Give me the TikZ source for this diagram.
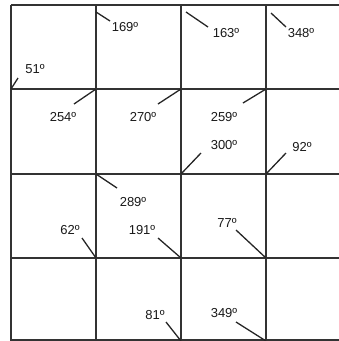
\documentclass[tikz,border=0pt]{standalone}
\usepackage{fontspec}
\setmainfont{Liberation Sans}

\begin{document}
\begin{tikzpicture}[x=1pt,y=-1pt,line width=1.6pt,
  grid/.style={black!80},
  tick/.style={black!85,line width=1.3pt},
  lbl/.style={inner sep=0pt,text=black!90,font=\fontsize{13}{15}\selectfont}]
  \useasboundingbox (0,0) rectangle (339,341);
  % grid
  \begin{scope}
    \clip (0,0) rectangle (339,341);
    \foreach \x in {11,96,181,266}
       \draw[grid] (\x,5)--(\x,345);
    \foreach \y in {5,89,174,258,340}
       \draw[grid] (11,\y)--(345,\y);
  \end{scope}
  % labels and ticks
  \foreach \t/\lx/\ly/\ax/\ay/\bx/\by in {51/35/69/11/89/18/78,169/125/27/96/12/110/21,
      163/226/33/186/12/208/27,348/301/33/271/13/286/27,254/63/117/96/89/74/104,
      270/143/117/181/89/158/104,259/224/117/266/89/243/103,300/224/145/201/153/181/174,
      92/302/147/286/153/266/174,289/133/202/96/174/117/188,62/70/230/82/238/96/258,
      191/142/230/158/238/181/258,77/227/223/236/230/266/258,81/155/315/166/322/181/341,
      349/224/313/236/322/266/341}
  {
    \node[lbl] (a\t) at (\lx,\ly) {\t º};
    \draw[tick] (\ax,\ay) coordinate (p\t) -- (\bx,\by) coordinate (q\t);
  }
\end{tikzpicture}
\end{document}
